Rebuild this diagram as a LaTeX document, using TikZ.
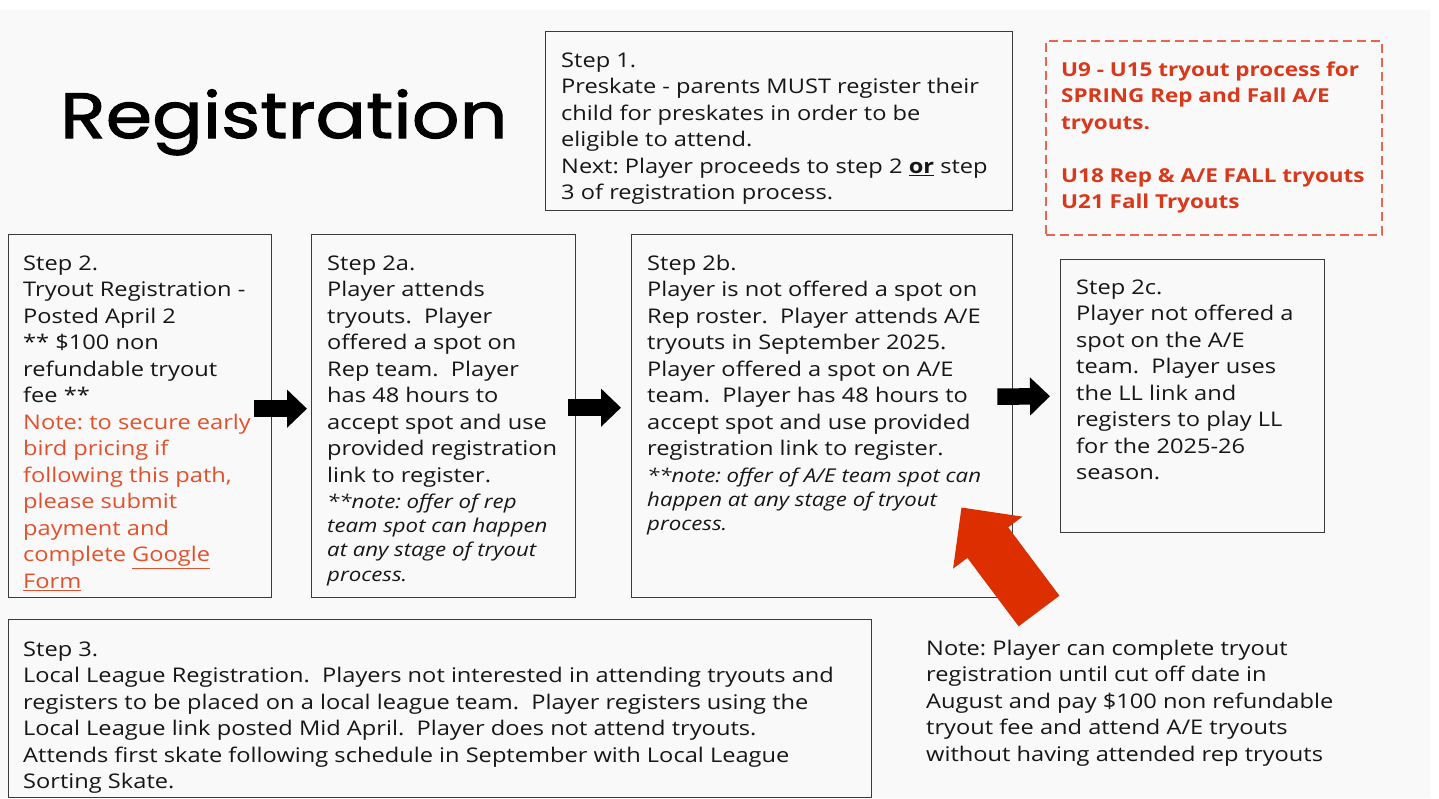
\documentclass[tikz,border=0pt]{standalone}
\usepackage{fontspec}
\setmainfont{Open Sans}[FakeStretch=1.17]
\newfontfamily\titlefont{Poppins}[FakeStretch=1.17,FakeBold=1.6]
\usetikzlibrary{arrows.meta}
\definecolor{bggray}{HTML}{F9F9F9}
\definecolor{ink}{HTML}{161616}
\definecolor{boxc}{HTML}{3A3A3A}
\definecolor{notered}{HTML}{E4502B}
\definecolor{boxred}{HTML}{D9381A}
\definecolor{dashred}{HTML}{EB6450}
\definecolor{arrowred}{HTML}{DD2E00}
\newcommand{\fl}{\rule{0pt}{20pt}}
\begin{document}
\frenchspacing
\begin{tikzpicture}[x=1pt,y=-1pt,
  stepbox/.style={draw=boxc, line width=1.4pt, inner sep=0pt, anchor=north west},
  txt/.style={anchor=north west, inner sep=0pt, align=left, text=ink,
    font=\fontsize{20.2}{26.5}\selectfont},
  itxt/.style={anchor=north west, inner sep=0pt, align=left, text=ink,
    font=\fontsize{19}{24.3}\selectfont\itshape},
  blk/.style={-{Triangle[length=20pt,width=37pt]}, line width=16.5pt, draw=black},
  bigred/.style={-{Triangle[length=44pt,width=84pt]}, line width=51pt, draw=arrowred}]
\useasboundingbox (0,0) rectangle (1439,798);
\fill[white] (0,0) rectangle (1439,798);
\fill[bggray] (0,10) rectangle (1430,798);

% title
\node[anchor=base west, inner sep=0pt, text=black, font=\titlefont\fontsize{64}{64}\selectfont] (title) at (60,138) {Registration};

% boxes
\node[stepbox, minimum width=467pt, minimum height=179pt] (s1) at (545,31) {};
\node[stepbox, draw=dashred, line width=1.8pt, dash pattern=on 9pt off 5pt, minimum width=336pt, minimum height=194pt] (red) at (1045,40) {};
\node[stepbox, minimum width=263pt, minimum height=363pt] (s2) at (8,234) {};
\node[stepbox, minimum width=264pt, minimum height=363pt] (s2a) at (311,234) {};
\node[stepbox, minimum width=381pt, minimum height=363pt] (s2b) at (631,234) {};
\node[stepbox, minimum width=264pt, minimum height=273pt] (s2c) at (1060,259) {};
\node[stepbox, minimum width=863pt, minimum height=178pt] (s3) at (8,619) {};

% texts
\node[txt] (t1) at (561,47) {\fl Step 1.\\
Preskate - parents MUST register their\\
child for preskates in order to be\\
eligible to attend.\\
Next: Player proceeds to step 2 \textbf{\underline{or}} step\\
3 of registration process.};

\node[txt, text=boxred, font=\fontsize{19.2}{26.5}\selectfont\bfseries] (tred) at (1061,56) {\fl U9 - U15 tryout process for\\
SPRING Rep and Fall A/E\\
tryouts.\\[26.5pt]
U18 Rep \& A/E FALL tryouts\\
U21 Fall Tryouts};

\node[txt] (t2) at (23,250) {\fl Step 2.\\
Tryout Registration -\\
Posted April 2\\
** \$100 non\\
refundable tryout\\
fee **\\
\textcolor{notered}{Note: to secure early}\\
\textcolor{notered}{bird pricing if}\\
\textcolor{notered}{following this path,}\\
\textcolor{notered}{please submit}\\
\textcolor{notered}{payment and}\\
\textcolor{notered}{complete \underline{Google}}\\
\textcolor{notered}{\underline{Form}}};

\node[txt] (t2a) at (327,250) {\fl Step 2a.\\
Player attends\\
tryouts.~ Player\\
offered a spot on\\
Rep team.~ Player\\
has 48 hours to\\
accept spot and use\\
provided registration\\
link to register.};
\node[itxt] (n2a) at (327,488) {\fl **note: offer of rep\\
team spot can happen\\
at any stage of tryout\\
process.};

\node[txt] (t2b) at (647,250) {\fl Step 2b.\\
Player is not offered a spot on\\
Rep roster.~ Player attends A/E\\
tryouts in September 2025.\\
Player offered a spot on A/E\\
team.~ Player has 48 hours to\\
accept spot and use provided\\
registration link to register.};
\node[itxt] (n2b) at (647,462) {\fl **note: offer of A/E team spot can\\
happen at any stage of tryout\\
process.};

\node[txt] (t2c) at (1076,274) {\fl Step 2c.\\
Player not offered a\\
spot on the A/E\\
team.~ Player uses\\
the LL link and\\
registers to play LL\\
for the 2025-26\\
season.};

\node[txt] (t3) at (23,636) {\fl Step 3.\\
Local League Registration.~ Players not interested in attending tryouts and\\
registers to be placed on a local league team.~ Player registers using the\\
Local League link posted Mid April.~ Player does not attend tryouts.\\
Attends first skate following schedule in September with Local League\\
Sorting Skate.};

\node[txt] (note) at (926,635) {\fl Note: Player can complete tryout\\
registration until cut off date in\\
August and pay \$100 non refundable\\
tryout fee and attend A/E tryouts\\
without having attended rep tryouts};

% connectors
\draw[blk] ([xshift=-18pt,yshift=7.5pt]s2.east) -- ([xshift=-4pt,yshift=7.5pt]s2a.west);
\draw[blk] ([xshift=-8pt,yshift=8.5pt]s2a.east) -- ([xshift=-10pt,yshift=8.5pt]s2b.west);
\draw[blk] ([xshift=-16pt,yshift=19.5pt]s2b.east) -- ([xshift=-10pt]s2c.west);

\coordinate (redtail) at (1039,611);
\draw[bigred] (redtail) -- ([xshift=-52pt,yshift=91pt]s2b.south east);
\end{tikzpicture}
\end{document}
